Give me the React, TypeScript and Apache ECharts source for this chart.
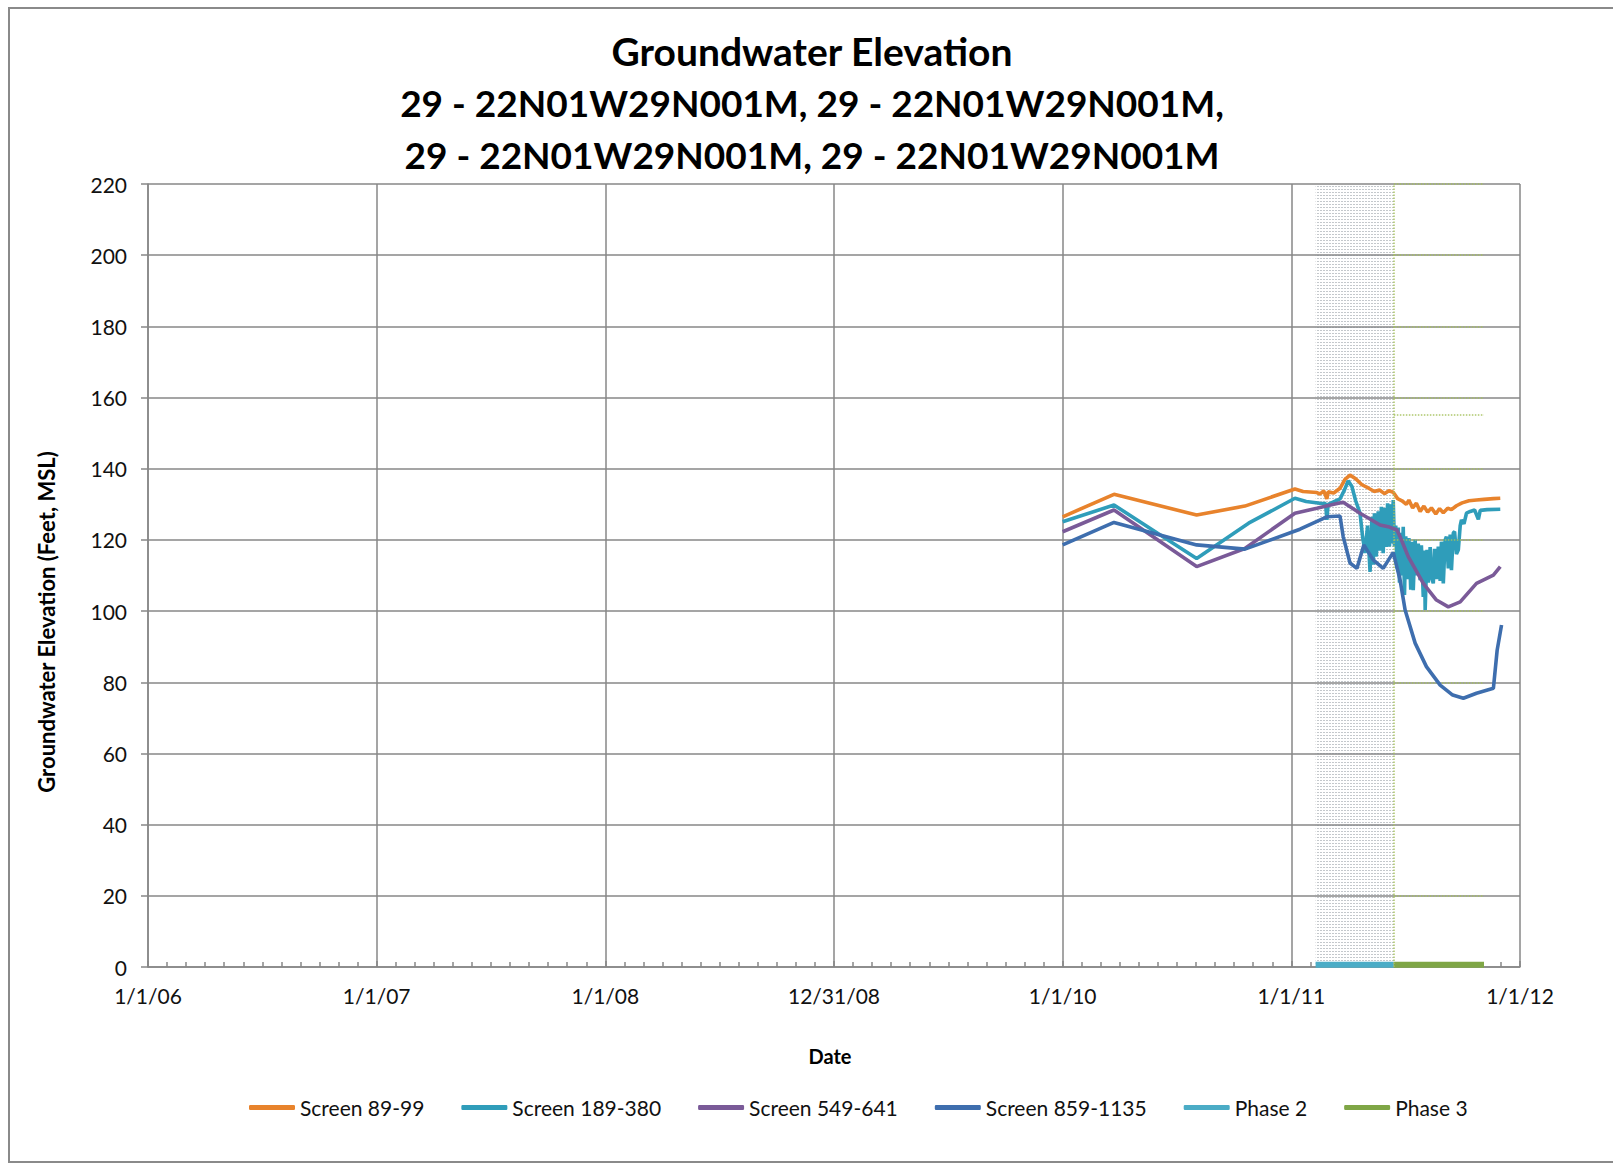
import React, { useEffect, useRef } from 'react';
import * as echarts from 'echarts';

const titleLines = [
  'Groundwater Elevation',
  '29 - 22N01W29N001M, 29 - 22N01W29N001M,',
  '29 - 22N01W29N001M, 29 - 22N01W29N001M',
];
const xAxisTitle = 'Date';
const yAxisTitle = 'Groundwater Elevation (Feet, MSL)';
const xTickLabels = ['1/1/06', '1/1/07', '1/1/08', '12/31/08', '1/1/10', '1/1/11', '1/1/12'];
const seriesNames = ['Screen 89-99', 'Screen 189-380', 'Screen 549-641', 'Screen 859-1135', 'Phase 2', 'Phase 3'];

const screen89: [string, number][] = [
  ['2010-01-01', 126.5], ['2010-03-24', 132.8], ['2010-08-03', 127.0], ['2010-10-19', 129.5],
  ['2011-01-07', 134.3], ['2011-01-20', 133.6], ['2011-02-11', 133.3], ['2011-02-16', 132.9],
  ['2011-02-22', 133.8], ['2011-02-27', 131.5], ['2011-03-01', 133.5], ['2011-03-10', 133.2],
  ['2011-03-20', 134.5], ['2011-03-28', 137.0], ['2011-04-05', 138.2], ['2011-04-14', 137.2],
  ['2011-04-24', 135.5], ['2011-05-04', 134.6], ['2011-05-14', 133.6], ['2011-05-22', 134.0],
  ['2011-05-30', 133.0], ['2011-06-06', 133.8], ['2011-06-13', 133.4], ['2011-06-20', 131.6],
  ['2011-06-27', 131.0], ['2011-07-04', 130.0], ['2011-07-08', 131.2], ['2011-07-14', 129.0],
  ['2011-07-20', 130.3], ['2011-07-26', 128.0], ['2011-08-01', 129.5], ['2011-08-07', 127.8],
  ['2011-08-13', 129.0], ['2011-08-20', 127.3], ['2011-08-26', 128.8], ['2011-09-01', 127.6],
  ['2011-09-08', 128.9], ['2011-09-14', 128.5], ['2011-09-22', 129.6], ['2011-10-01', 130.4],
  ['2011-10-12', 131.0], ['2011-10-24', 131.2], ['2011-11-05', 131.4], ['2011-11-20', 131.6],
  ['2011-12-01', 131.7],
];

const screen189: [string, number][] = [
  ['2010-01-01', 125.1], ['2010-03-24', 129.8], ['2010-08-03', 114.8], ['2010-10-25', 124.7],
  ['2011-01-07', 131.7], ['2011-01-25', 130.8], ['2011-02-16', 130.3], ['2011-02-25', 130.2],
  ['2011-02-27', 125.6], ['2011-03-01', 130.0], ['2011-03-20', 131.5], ['2011-03-27', 134.0],
  ['2011-04-02', 136.6], ['2011-04-08', 135.0], ['2011-04-14', 131.0], ['2011-04-21', 127.5],
  ['2011-04-25', 121.0], ['2011-04-29', 116.3], ['2011-05-03', 124.0], ['2011-05-07', 111.0],
  ['2011-05-10', 126.5], ['2011-05-12', 113.0], ['2011-05-14', 127.5], ['2011-05-17', 115.3],
  ['2011-05-20', 128.0], ['2011-05-23', 117.0], ['2011-05-25', 129.3], ['2011-05-28', 116.3],
  ['2011-05-30', 129.0], ['2011-06-02', 118.0], ['2011-06-04', 130.3], ['2011-06-07', 118.1],
  ['2011-06-09', 130.0], ['2011-06-11', 119.0], ['2011-06-13', 131.2], ['2011-06-15', 118.1],
  ['2011-06-17', 124.0], ['2011-06-19', 112.0], ['2011-06-21', 123.5], ['2011-06-23', 108.0],
  ['2011-06-25', 122.0], ['2011-06-27', 110.0], ['2011-06-29', 123.7], ['2011-07-01', 104.5],
  ['2011-07-03', 121.0], ['2011-07-06', 109.0], ['2011-07-08', 120.5], ['2011-07-11', 106.0],
  ['2011-07-13', 119.5], ['2011-07-15', 105.9], ['2011-07-18', 120.0], ['2011-07-20', 110.0],
  ['2011-07-23', 119.0], ['2011-07-26', 108.7], ['2011-07-28', 118.5], ['2011-07-31', 104.0],
  ['2011-08-02', 117.0], ['2011-08-03', 100.3], ['2011-08-06', 117.2], ['2011-08-08', 108.0],
  ['2011-08-11', 118.0], ['2011-08-13', 109.5], ['2011-08-16', 107.8], ['2011-08-18', 117.5],
  ['2011-08-21', 109.0], ['2011-08-24', 118.1], ['2011-08-27', 108.5], ['2011-08-29', 119.5],
  ['2011-09-01', 107.8], ['2011-09-04', 120.0], ['2011-09-06', 120.9], ['2011-09-09', 112.0],
  ['2011-09-12', 121.5], ['2011-09-14', 111.5], ['2011-09-17', 122.0], ['2011-09-19', 122.3],
  ['2011-09-22', 116.0], ['2011-09-25', 117.2], ['2011-09-28', 124.0], ['2011-09-30', 125.6],
  ['2011-10-04', 124.5], ['2011-10-08', 127.5], ['2011-10-14', 128.0], ['2011-10-21', 128.4],
  ['2011-10-27', 125.8], ['2011-10-30', 128.3], ['2011-11-10', 128.5], ['2011-12-01', 128.6],
];

const screen549: [string, number][] = [
  ['2010-01-01', 122.3], ['2010-03-24', 128.4], ['2010-08-03', 112.5], ['2010-10-19', 117.6],
  ['2011-01-07', 127.5], ['2011-02-11', 128.9], ['2011-03-10', 130.0], ['2011-03-25', 130.6],
  ['2011-04-21', 127.5], ['2011-05-23', 124.2], ['2011-06-07', 123.6], ['2011-06-19', 122.8],
  ['2011-06-24', 120.9], ['2011-07-07', 115.3], ['2011-07-31', 107.8], ['2011-08-21', 103.1],
  ['2011-09-09', 101.2], ['2011-09-28', 102.6], ['2011-10-24', 107.8], ['2011-11-20', 110.1],
  ['2011-12-01', 112.5],
];

const screen859: [string, number][] = [
  ['2010-01-01', 118.6], ['2010-03-24', 124.9], ['2010-08-03', 118.6], ['2010-10-19', 117.4],
  ['2011-01-15', 123.0], ['2011-02-27', 126.5], ['2011-03-20', 126.7], ['2011-03-25', 121.0],
  ['2011-04-05', 113.5], ['2011-04-16', 112.0], ['2011-04-27', 118.6], ['2011-05-12', 114.4],
  ['2011-05-28', 112.0], ['2011-06-13', 116.5], ['2011-06-24', 108.7], ['2011-07-02', 100.3],
  ['2011-07-18', 91.0], ['2011-08-05', 84.4], ['2011-08-27', 79.2], ['2011-09-16', 76.4],
  ['2011-10-03', 75.5], ['2011-10-24', 76.9], ['2011-11-20', 78.3], ['2011-11-26', 89.0],
  ['2011-12-03', 96.1],
];

const phase2Range = ['2011-02-09', '2011-06-14'];
const phase3Range = ['2011-06-14', '2011-11-05'];
const phaseLevel = 0.6;
const phase3Levels = [220, 200, 180, 160, 155.3, 140, 120, 100, 80, 20];

const yMin = 0;
const yMax = 220;
const yStep = 20;

const ORIGIN = Date.UTC(2006, 0, 1);
const toDay = (s: string) => {
  const [y, m, d] = s.split('-').map(Number);
  return (Date.UTC(y, m - 1, d) - ORIGIN) / 86400000;
};
const XSTEP = 365.25;
const XMAX = XSTEP * 6;

const colors = ['#E8832C', '#2F9DBA', '#7A5A98', '#3E6EAE', '#4BACC6', '#7FA646'];
const FONT = 'Lato, "Open Sans", sans-serif';
const GRID = '#878787';

function makeDotPattern() {
  const c = document.createElement('canvas');
  c.width = 3;
  c.height = 3;
  const ctx = c.getContext('2d');
  if (ctx) {
    ctx.fillStyle = 'rgba(125,132,142,0.45)';
    ctx.fillRect(0, 0, 2, 1);
  }
  return c;
}

export default function App() {
  const ref = useRef<HTMLDivElement>(null);
  useEffect(() => {
    if (!ref.current) return;
    const chart = echarts.init(ref.current, undefined, { renderer: 'svg' });
    const toXY = (arr: [string, number][]) => arr.map(([d, v]) => [toDay(d), v]);
    const lineSeries = [screen89, screen189, screen549, screen859].map((arr, i) => ({
      name: seriesNames[i],
      type: 'line',
      data: toXY(arr),
      showSymbol: false,
      symbol: 'none',
      lineStyle: { width: 3.6, color: colors[i] },
      itemStyle: { color: colors[i] },
      z: 3 + i,
    }));
    const p3s = toDay(phase3Range[0]);
    const p3e = toDay(phase3Range[1]);
    const option: any = {
      animation: false,
      backgroundColor: '#fff',
      grid: { left: 148, right: 93, top: 184, bottom: 201, containLabel: false },
      xAxis: {
        type: 'value',
        min: 0,
        max: XMAX,
        interval: XSTEP,
        axisLine: { show: true, lineStyle: { color: GRID, width: 1.5 } },
        axisTick: { show: true, inside: true, length: 6, lineStyle: { color: GRID, width: 1.5 } },
        minorTick: { show: true, splitNumber: 12, length: 5, lineStyle: { color: GRID, width: 1.5 } },
        splitLine: { show: true, lineStyle: { color: GRID, width: 1.5 } },
        axisLabel: {
          margin: 18,
          fontSize: 21,
          fontFamily: FONT,
          color: '#111',
          showMinLabel: true,
          showMaxLabel: true,
          formatter: (v: number) => xTickLabels[Math.round(v / XSTEP)] ?? '',
        },
      },
      yAxis: {
        type: 'value',
        min: yMin,
        max: yMax,
        interval: yStep,
        axisLine: { show: true, lineStyle: { color: GRID, width: 1.5 } },
        axisTick: { show: true, inside: false, length: 7, lineStyle: { color: GRID, width: 1.5 } },
        splitLine: { show: true, lineStyle: { color: GRID, width: 1.5 } },
        axisLabel: { margin: 21, fontSize: 21, fontFamily: FONT, color: '#111', verticalAlign: 'middle', padding: [0, 0, 3, 0] },
      },
      legend: {
        data: seriesNames,
        left: 249,
        top: 1097,
        padding: 0,
        itemWidth: 46,
        itemHeight: 5,
        itemGap: 37,
        icon: 'roundRect',
        textStyle: { fontSize: 21, fontFamily: FONT, color: '#111' },
      },
      series: [
        ...lineSeries,
        {
          name: seriesNames[4],
          type: 'line',
          data: phase2Range.map((d) => [toDay(d), phaseLevel]),
          showSymbol: false,
          symbol: 'none',
          lineStyle: { width: 6, color: colors[4] },
          itemStyle: { color: colors[4] },
          z: 2,
          markArea: {
            silent: true,
            itemStyle: { color: { image: makeDotPattern(), repeat: 'repeat' } },
            data: [[{ xAxis: toDay(phase2Range[0]), yAxis: yMin }, { xAxis: toDay(phase2Range[1]), yAxis: yMax }]],
          },
        },
        {
          name: seriesNames[5],
          type: 'line',
          data: phase3Range.map((d) => [toDay(d), phaseLevel]),
          showSymbol: false,
          symbol: 'none',
          lineStyle: { width: 6, color: colors[5] },
          itemStyle: { color: colors[5] },
          z: 2,
          markLine: {
            silent: true,
            symbol: ['none', 'none'],
            label: { show: false },
            lineStyle: { color: '#A5C25C', type: 'dotted', width: 1.5, opacity: 0.9 },
            data: [
              ...phase3Levels.map((lv) => [{ coord: [p3s, lv] }, { coord: [p3e, lv] }]),
              [{ coord: [p3s, yMin] }, { coord: [p3s, yMax] }],
            ],
          },
        },
      ],
      graphic: [
        {
          type: 'rect',
          shape: { x: 9, y: 8, width: 1640, height: 1154 },
          style: { fill: 'none', stroke: '#8a8a8a', lineWidth: 2 },
          silent: true,
        },
        ...titleLines.map((t, i) => ({
          type: 'text',
          x: 812,
          y: 51 + i * 51.5,
          style: {
            text: t,
            fontSize: i === 0 ? 39 : 37,
            fontWeight: 'bold',
            fontFamily: FONT,
            fill: '#000',
            align: 'center',
            verticalAlign: 'middle',
            textAlign: 'center',
            textVerticalAlign: 'middle',
          },
        })),
        {
          type: 'text',
          x: 830,
          y: 1056,
          style: {
            text: xAxisTitle, fontSize: 20, fontWeight: 'bold', fontFamily: FONT, fill: '#000',
            align: 'center', verticalAlign: 'middle', textAlign: 'center', textVerticalAlign: 'middle',
          },
        },
        {
          type: 'text',
          x: 46,
          y: 622,
          rotation: Math.PI / 2,
          style: {
            text: yAxisTitle, fontSize: 22, fontWeight: 'bold', fontFamily: FONT, fill: '#000',
            align: 'center', verticalAlign: 'middle', textAlign: 'center', textVerticalAlign: 'middle',
          },
        },
      ],
    };
    chart.setOption(option);
    return () => chart.dispose();
  }, []);
  return <div ref={ref} style={{ position: 'fixed', left: 0, top: 0, width: 1613, height: 1168, background: '#fff' }} />;
}
